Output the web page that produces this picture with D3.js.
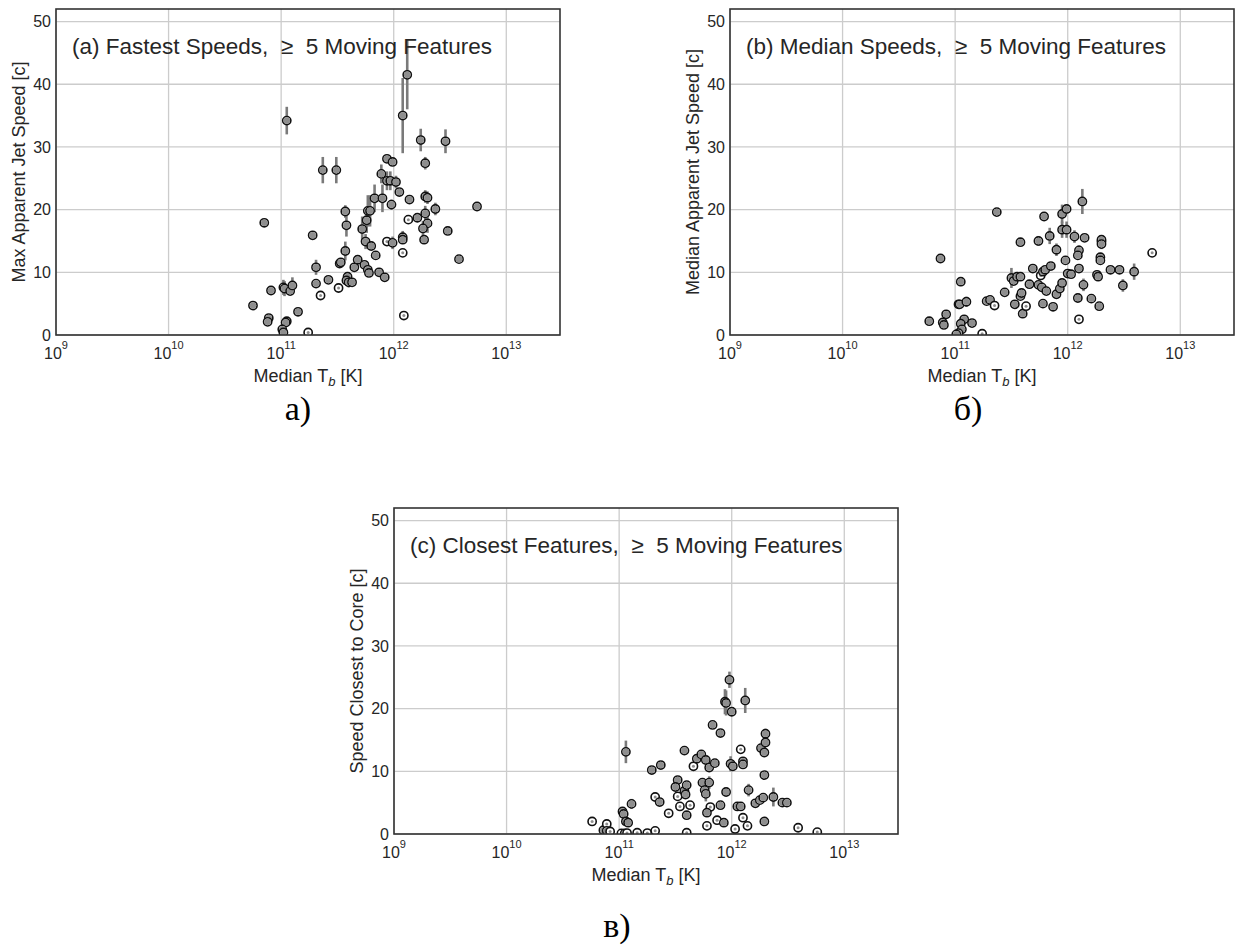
<!DOCTYPE html>
<html>
<head>
<meta charset="utf-8">
<script src="https://cdn.jsdelivr.net/npm/d3@7"></script>
<style>
  html, body { margin: 0; padding: 0; background: #ffffff; }
  svg { display: block; }
</style>
</head>
<body>
<svg id="chart" width="1235" height="950"></svg>
<script>
// ---------------- DATA ----------------
// Each point: [log10(Median Tb [K]), speed [c], error half-length [c], fill class (1 = full grey, 0 = small grey core)]
const xTickExponents = [9, 10, 11, 12, 13];
const yTickValues = [0, 10, 20, 30, 40, 50];

const panelTitles = [
  "(a) Fastest Speeds,\u00a0 \u2265\u00a0 5 Moving Features",
  "(b) Median Speeds,\u00a0 \u2265\u00a0 5 Moving Features",
  "(c) Closest Features,\u00a0 \u2265\u00a0 5 Moving Features"
];
const yAxisLabels = [
  "Max Apparent Jet Speed [c]",
  "Median Apparent Jet Speed [c]",
  "Speed Closest to Core [c]"
];
const subfigureLabels = ["а)", "б)", "в)"];

const fastestSpeeds = [
  [10.85, 17.9, 0.4, 1], [10.75, 4.7, 0, 1], [10.89, 2.7, 0, 1], [10.88, 2.1, 0, 1],
  [10.91, 7.1, 0, 1], [11.02, 7.6, 1.2, 1], [11.03, 7.4, 1.2, 1], [11.08, 7.0, 0, 1],
  [11.10, 7.9, 1.3, 1], [11.05, 2.2, 0, 1], [11.04, 2.0, 0, 1], [11.01, 0.9, 0, 1],
  [11.02, 0.4, 0, 1], [11.15, 3.7, 0, 1], [11.24, 0.4, 0, 0], [11.28, 15.9, 0.4, 1],
  [11.31, 10.8, 1.2, 1], [11.31, 8.2, 0, 1], [11.35, 6.3, 0, 0], [11.37, 26.3, 2.1, 1],
  [11.49, 26.3, 2.1, 1], [11.42, 8.8, 0, 1], [11.51, 7.5, 0, 0], [11.52, 11.4, 0, 1],
  [11.53, 11.6, 0, 1], [11.57, 19.7, 1.0, 1], [11.58, 17.5, 1.8, 1], [11.57, 13.4, 1.5, 1],
  [11.59, 9.3, 0.6, 1], [11.58, 8.7, 0, 1], [11.60, 8.4, 0.8, 1], [11.63, 8.4, 0, 1],
  [11.65, 10.8, 0, 1], [11.68, 12.0, 0, 1], [11.72, 16.9, 2.0, 1], [11.76, 18.3, 2.0, 1],
  [11.77, 19.8, 2.5, 1], [11.79, 19.8, 2.5, 1], [11.75, 14.9, 1.2, 1], [11.80, 14.2, 0, 1],
  [11.74, 11.2, 0, 1], [11.77, 10.4, 0, 1], [11.78, 9.9, 0, 1], [11.84, 12.7, 0, 1],
  [11.87, 10.0, 0, 1], [11.92, 9.2, 0, 1], [11.83, 21.8, 2.2, 1], [11.90, 21.8, 2.2, 1],
  [11.98, 20.8, 0.8, 1], [11.89, 25.7, 1.5, 1], [11.94, 28.1, 0.5, 1], [11.99, 27.6, 0.5, 1],
  [11.94, 24.6, 1.5, 1], [11.97, 24.6, 1.5, 1], [12.02, 24.4, 1.0, 1], [12.05, 22.8, 0, 1],
  [12.14, 21.6, 0, 1], [11.94, 14.9, 0, 0], [11.99, 14.7, 1.0, 1], [12.08, 15.6, 1.0, 1],
  [12.08, 15.2, 0, 1], [12.08, 13.1, 0, 0], [12.09, 3.1, 0, 0], [12.13, 18.4, 0, 0],
  [12.21, 18.7, 0, 1], [12.28, 22.1, 1.0, 1], [12.30, 21.9, 1.0, 1], [12.28, 19.4, 1.2, 1],
  [12.30, 17.8, 1.5, 1], [12.26, 17.0, 1.2, 1], [12.27, 15.2, 0, 1], [12.28, 27.4, 1.0, 1],
  [12.37, 20.1, 1.0, 1], [12.48, 16.6, 0, 1], [12.58, 12.1, 0, 1], [12.74, 20.5, 0.5, 1],
  [12.24, 31.1, 1.8, 1], [12.46, 30.9, 1.9, 1], [11.05, 34.2, 2.2, 1], [12.08, 35.0, 6.0, 1],
  [12.12, 41.5, 5.5, 1]
];

const medianSpeeds = [
  [10.77, 2.2, 0, 1], [10.92, 3.3, 0, 1], [10.89, 2.0, 0, 1], [10.90, 1.6, 0, 1],
  [10.87, 12.2, 0.7, 1], [11.05, 8.5, 0.7, 1], [11.03, 4.9, 0, 1], [11.04, 4.9, 0, 1],
  [11.10, 5.3, 0.8, 1], [11.08, 2.5, 0, 1], [11.05, 1.8, 0, 1], [11.06, 0.9, 0, 1],
  [11.03, 0.3, 0, 1], [11.01, 0.1, 0, 1], [11.15, 1.9, 0, 1], [11.24, 0.2, 0, 0],
  [11.28, 5.4, 0, 1], [11.31, 5.6, 0, 1], [11.35, 4.7, 0, 0], [11.37, 19.6, 0.6, 1],
  [11.44, 6.8, 0, 1], [11.50, 9.1, 1.6, 1], [11.52, 8.6, 0, 1], [11.55, 9.3, 0, 1],
  [11.58, 9.3, 0, 1], [11.53, 4.9, 0, 1], [11.58, 14.8, 0, 1], [11.60, 3.4, 0, 1],
  [11.58, 6.2, 0, 1], [11.59, 6.7, 0, 1], [11.63, 4.6, 0, 0], [11.66, 8.1, 0, 1],
  [11.69, 10.6, 0.7, 1], [11.74, 15.0, 0.8, 1], [11.76, 9.5, 0, 0], [11.78, 10.1, 0, 1],
  [11.80, 10.4, 0, 1], [11.74, 8.0, 0, 1], [11.77, 7.6, 0, 1], [11.81, 7.0, 0, 1],
  [11.79, 18.9, 0, 1], [11.84, 15.8, 1.3, 1], [11.85, 11.0, 0, 1], [11.78, 5.0, 0, 1],
  [11.87, 4.5, 0, 1], [11.90, 13.6, 1.0, 1], [11.90, 6.5, 0, 1], [11.93, 7.4, 0, 1],
  [11.95, 8.3, 0, 1], [11.95, 19.3, 1.5, 1], [11.99, 20.1, 0, 1], [11.95, 16.8, 1.3, 1],
  [11.99, 16.8, 1.3, 1], [11.98, 11.9, 0, 1], [12.00, 9.8, 0, 1], [12.03, 9.7, 0, 1],
  [12.06, 15.7, 1.0, 1], [12.15, 15.5, 0, 1], [12.10, 13.5, 0.8, 1], [12.09, 12.7, 0, 1],
  [12.10, 10.6, 0, 1], [12.09, 5.9, 0, 1], [12.10, 2.5, 0, 0], [12.14, 8.0, 1.0, 1],
  [12.13, 21.3, 2.0, 1], [12.21, 5.8, 0, 1], [12.26, 9.6, 0, 1], [12.27, 9.3, 0, 1],
  [12.28, 4.6, 0, 1], [12.29, 12.4, 0, 1], [12.29, 11.9, 0, 1], [12.30, 14.9, 0, 1],
  [12.30, 15.2, 0, 1], [12.30, 14.5, 0.8, 1], [12.38, 10.4, 0, 1], [12.46, 10.4, 0, 1],
  [12.49, 7.9, 1.0, 1], [12.59, 10.1, 1.3, 1], [12.75, 13.1, 0, 0]
];

const closestSpeeds = [
  [10.76, 2.0, 0, 0], [10.86, 0.6, 0, 1], [10.89, 1.6, 0, 0], [10.89, 0.5, 0, 1],
  [10.92, 0.4, 0, 0], [11.03, 3.6, 0, 1], [11.04, 3.2, 0, 1], [11.06, 13.1, 1.8, 1],
  [11.06, 2.0, 0, 1], [11.08, 1.8, 0, 1], [11.11, 4.8, 0.8, 1], [11.02, 0.1, 0, 0],
  [11.05, 0.1, 0, 0], [11.07, 0.15, 0, 0], [11.16, 0.2, 0, 0], [11.25, 0.15, 0, 0],
  [11.32, 0.5, 0, 0], [11.29, 10.2, 0, 1], [11.37, 11.0, 0, 1], [11.32, 5.9, 0, 0],
  [11.36, 5.1, 0, 1], [11.44, 3.3, 0, 0], [11.52, 8.6, 0, 1], [11.50, 7.5, 0, 1],
  [11.52, 6.0, 0, 0], [11.54, 4.4, 0, 0], [11.58, 13.3, 0, 1], [11.58, 6.9, 0, 1],
  [11.59, 6.3, 0, 1], [11.60, 7.8, 0, 1], [11.63, 4.6, 0, 0], [11.60, 3.0, 0, 1],
  [11.60, 0.2, 0, 0], [11.66, 10.8, 0, 0], [11.69, 12.0, 0, 1], [11.73, 12.7, 0, 1],
  [11.77, 11.8, 0, 1], [11.80, 10.6, 0, 1], [11.85, 11.3, 0, 1], [11.74, 8.2, 0, 1],
  [11.80, 8.2, 1.0, 1], [11.76, 7.0, 1.2, 1], [11.77, 6.4, 1.2, 1], [11.81, 4.3, 0, 0],
  [11.78, 3.4, 0, 1], [11.78, 1.3, 0, 0], [11.83, 17.4, 0, 1], [11.90, 16.1, 0, 1],
  [11.87, 2.2, 0, 0], [11.90, 4.6, 0, 1], [11.93, 1.8, 0, 1], [11.95, 6.7, 0, 1],
  [11.94, 21.1, 2.0, 1], [11.95, 20.9, 2.0, 1], [11.98, 24.6, 1.3, 1], [12.00, 19.5, 0, 1],
  [11.99, 11.2, 1.2, 1], [12.01, 10.8, 0, 1], [12.03, 0.8, 0, 0], [12.05, 4.4, 0, 1],
  [12.08, 4.4, 0, 1], [12.08, 13.5, 0, 0], [12.10, 11.6, 0, 1], [12.10, 11.1, 0, 1],
  [12.10, 2.6, 0, 0], [12.14, 1.3, 0, 0], [12.12, 21.3, 2.0, 1], [12.15, 7.0, 1.0, 1],
  [12.21, 4.9, 0, 1], [12.25, 5.4, 0, 1], [12.28, 5.8, 0, 1], [12.26, 13.7, 0, 1],
  [12.29, 13.0, 0, 1], [12.30, 14.6, 0, 1], [12.30, 16.0, 0.8, 1], [12.29, 9.4, 0, 1],
  [12.29, 2.0, 0, 1], [12.37, 5.9, 1.5, 1], [12.45, 5.0, 0, 1], [12.49, 5.0, 0, 1],
  [12.59, 1.0, 0, 0], [12.76, 0.3, 0, 0]
];

const panelData = [fastestSpeeds, medianSpeeds, closestSpeeds];

// ---------------- LAYOUT ----------------
const panels = [
  { left: 56,  top: 9,   label: { x: 298, y: 420 } },
  { left: 730, top: 9,   label: { x: 968, y: 420 } },
  { left: 394, top: 508, label: { x: 617, y: 937 } }
];
const W = 504, H = 326;
const xDomain = [1e9, 3e13];
const yDomain = [0, 52];

const svg = d3.select("#chart");
const FONT = "'Liberation Sans', Arial, sans-serif";
const TEXT = "#262626";

panels.forEach((p, i) => {
  const x = d3.scaleLog().domain(xDomain).range([0, W]);
  const y = d3.scaleLinear().domain(yDomain).range([H, 0]);
  const g = svg.append("g").attr("transform", `translate(${p.left},${p.top})`);

  const clipId = "clip" + i;
  g.append("clipPath").attr("id", clipId)
    .append("rect").attr("x", 0).attr("y", 0).attr("width", W).attr("height", H);

  // grid
  const grid = g.append("g");
  grid.selectAll("line.gx").data(xTickExponents).join("line")
    .attr("x1", d => x(Math.pow(10, d))).attr("x2", d => x(Math.pow(10, d)))
    .attr("y1", 0).attr("y2", H)
    .attr("stroke", "#cccccc").attr("stroke-width", 1.3);
  grid.selectAll("line.gy").data(yTickValues).join("line")
    .attr("x1", 0).attr("x2", W)
    .attr("y1", d => y(d)).attr("y2", d => y(d))
    .attr("stroke", "#cccccc").attr("stroke-width", 1.3);

  // data
  const data = panelData[i];
  const marks = g.append("g").attr("clip-path", `url(#${clipId})`);
  marks.selectAll("line.err").data(data.filter(d => d[2] > 0)).join("line")
    .attr("x1", d => x(Math.pow(10, d[0]))).attr("x2", d => x(Math.pow(10, d[0])))
    .attr("y1", d => y(d[1] - d[2])).attr("y2", d => y(d[1] + d[2]))
    .attr("stroke", "#7a7a7a").attr("stroke-width", 2.6);
  const pts = marks.selectAll("g.pt").data(data).join("g")
    .attr("transform", d => `translate(${x(Math.pow(10, d[0]))},${y(d[1])})`);
  pts.append("circle").attr("r", 4.1)
    .attr("fill", "#ffffff").attr("stroke", "#111111").attr("stroke-width", 1.6);
  pts.append("circle").attr("r", d => d[3] ? 3.3 : 1.5)
    .attr("fill", "#8e8e8e");

  // frame
  g.append("rect").attr("x", 0).attr("y", 0).attr("width", W).attr("height", H)
    .attr("fill", "none").attr("stroke", "#333333").attr("stroke-width", 1.6);

  // y ticks
  g.selectAll("text.yt").data(yTickValues).join("text")
    .attr("x", -5).attr("y", d => y(d)).attr("dy", "0.36em")
    .attr("text-anchor", "end")
    .attr("font-family", FONT).attr("font-size", 16).attr("fill", TEXT)
    .text(d => d);

  // x ticks (10^n)
  const xt = g.selectAll("text.xt").data(xTickExponents).join("text")
    .attr("x", d => x(Math.pow(10, d))).attr("y", H + 24)
    .attr("text-anchor", "middle")
    .attr("font-family", FONT).attr("fill", TEXT);
  xt.append("tspan").attr("font-size", 16).text("10");
  xt.append("tspan").attr("font-size", 11).attr("dy", -10).text(d => d);

  // x label
  const xl = g.append("text").attr("x", W / 2).attr("y", H + 47)
    .attr("text-anchor", "middle")
    .attr("font-family", FONT).attr("font-size", 18).attr("fill", TEXT);
  xl.append("tspan").text("Median T");
  xl.append("tspan").attr("font-style", "italic").attr("font-size", 13).attr("dy", 4).text("b");
  xl.append("tspan").attr("dy", -4).text(" [K]");

  // y label
  g.append("text")
    .attr("transform", `translate(-31.5,${H / 2}) rotate(-90)`)
    .attr("text-anchor", "middle")
    .attr("font-family", FONT).attr("font-size", 18).attr("fill", TEXT)
    .text(yAxisLabels[i]);

  // panel title
  g.append("text").attr("x", 16).attr("y", 45)
    .attr("font-family", FONT).attr("font-size", 22.5).attr("fill", TEXT)
    .text(panelTitles[i]);

  // subfigure label
  svg.append("text").attr("x", p.label.x).attr("y", p.label.y)
    .attr("text-anchor", "middle")
    .attr("font-family", "'Liberation Serif', 'Times New Roman', serif")
    .attr("font-size", 34).attr("fill", "#000")
    .text(subfigureLabels[i]);
});
</script>
</body>
</html>
